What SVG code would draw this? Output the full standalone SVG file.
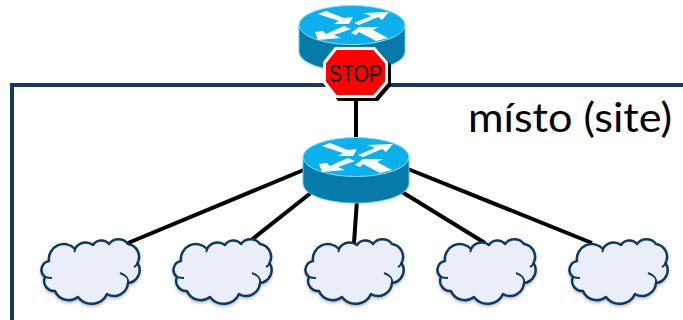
<svg xmlns="http://www.w3.org/2000/svg" width="683" height="320" viewBox="0 0 683 320">
<defs>
<filter id="soft" x="-10%" y="-10%" width="120%" height="125%"><feGaussianBlur in="SourceAlpha" stdDeviation="1.5"/><feOffset dy="2"/><feComponentTransfer><feFuncA type="linear" slope="0.25"/></feComponentTransfer><feMerge><feMergeNode/><feMergeNode in="SourceGraphic"/></feMerge></filter>
<g id="router">
<path d="M-53 -13V13C-53 25 -29 33 0 33S53 25 53 13V-13Z" fill="#067aa8" stroke="#5cc8ee" stroke-width="1"/>
<ellipse cx="0" cy="-13" rx="53" ry="19.500" fill="#0cb0ec" stroke="#8edcf6" stroke-width="1"/>
<g fill="#fff">
<polygon points="-34,-24 -26,-27 -8,-20 1,-21 -3,-14 -18,-14 -13,-17"/>
<polygon points="2,-15 19,-22 11,-25 37,-26 30,-18 26,-21 7,-13"/>
<polygon points="-37,-6 -34,2 -11,0 -18,-3 -1,-9 -8,-12 -26,-4 -29,-7"/>
<polygon points="-1,-5 7,-11 27,-11 21,-8 36,0 24,3 7,-6 4,-3"/>
</g>
</g>
<g id="cloud" filter="url(#soft)">
<path d="M49 41A15 15 0 0 1 75 29A12 12 0 0 1 93 25A10 10 0 0 1 109 24A12 12 0 0 1 128 24A13 13 0 0 1 137.500 43A13 13 0 0 1 128 63A14 14 0 0 1 107 74A17 17 0 0 1 78 77A15 15 0 0 1 55 71A10 10 0 0 1 45 57A9 9 0 0 1 49 41Z" transform="translate(0,220)" fill="#e9eef8" stroke="#10375f" stroke-width="2.500" stroke-linejoin="round"/>
<path d="M120 53C126 55 129 59 128 63M45 57C48 58 50 58 52 58M75 29C75 30 75 31 74 32M137.500 43C137 45 136 46 134 47" transform="translate(0,220)" fill="none" stroke="#10375f" stroke-width="2"/>
</g>
<style>
.link{stroke:#000;stroke-width:4;fill:none}
.frame{stroke:#17375e;stroke-width:4;fill:none}
</style>
</defs>
<g id="frame"><path class="frame" d="M12 320V85H683"/></g>
<g id="connectors">
<path class="link" d="M356 100V140M306 169L128 243M312 192L250 241M357 200L354 243M402 192L485 243M408 169L592 243"/>
</g>
<g id="router-top"><use href="#router" x="352" y="38"/></g>
<g id="router-site"><use href="#router" x="356" y="170"/></g>
<g id="stop-sign">
<polygon points="338,50 378,50 391,65 391,86 378,101 338,101 326,86 326,65" fill="#000"/>
<polygon points="335,47 375,47 388,62 388,83 375,98 335,98 323,83 323,62" fill="#fff"/>
<polygon points="336.500,50 373.500,50 385,63.500 385,81.500 373.500,95 336.500,95 326,81.500 326,63.500" fill="#f00"/>
<text x="329" y="82" font-family="'Liberation Sans',Arial,sans-serif" font-size="24" textLength="53" lengthAdjust="spacingAndGlyphs" fill="#000">STOP</text>
</g>
<g id="cloud-1"><use href="#cloud"/></g>
<g id="cloud-2"><use href="#cloud" x="132"/></g>
<g id="cloud-3"><use href="#cloud" x="264"/></g>
<g id="cloud-4"><use href="#cloud" x="396"/></g>
<g id="cloud-5"><use href="#cloud" x="528"/></g>
<g id="label"><text x="468" y="132" font-family="Lato,'Open Sans',sans-serif" font-size="41" textLength="204" lengthAdjust="spacingAndGlyphs" fill="#000">místo (site)</text></g>
</svg>
